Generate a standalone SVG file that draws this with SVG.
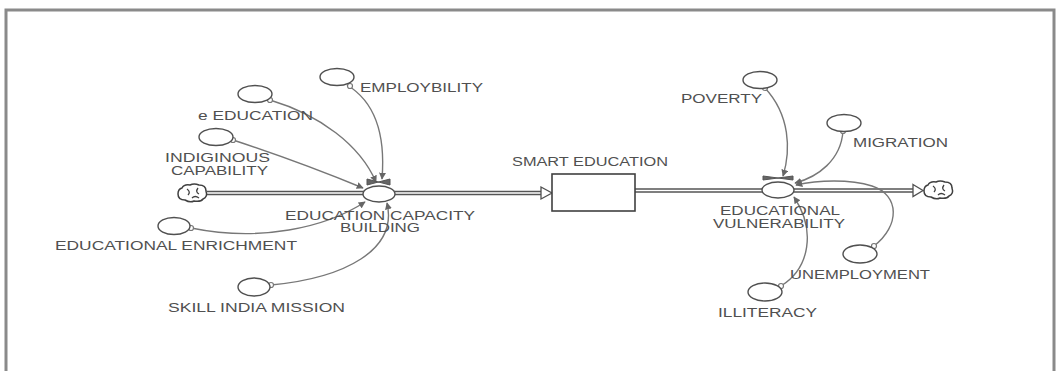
<svg xmlns="http://www.w3.org/2000/svg" width="1057" height="371" viewBox="0 0 1057 371">
<defs>
<style>
text{font-family:"Liberation Sans",Arial,sans-serif;font-size:12px;fill:#505050;}
.var{fill:#fff;stroke:#505050;stroke-width:1.4;}
.link{fill:none;stroke:#777;stroke-width:1.4;}
.pipe{fill:none;stroke:#555;stroke-width:4.5;}
.pipein{fill:none;stroke:#fff;stroke-width:1.5;}
.cloud{fill:#fff;stroke:#404040;stroke-width:1.5;}
.head{fill:#fff;stroke:#505050;stroke-width:1.3;}
.dot{fill:#fff;stroke:#777;stroke-width:1.2;}
</style>
<marker id="arr" viewBox="0 0 10 10" refX="9" refY="5" markerWidth="7" markerHeight="7" orient="auto" markerUnits="userSpaceOnUse">
<path d="M0,0 L10,5 L0,10 Z" fill="#666"/>
</marker>
<g id="cloudshape">
<path class="cloud" d="M-11,-5 Q-9,-9 -3,-8 Q1,-10 6,-8 Q13,-8 13,-2 Q15,4 10,6 Q8,9 1,8 Q-3,10 -8,7 Q-15,7 -15,1 Q-15,-4 -11,-5 Z"/>
<path fill="none" stroke="#404040" stroke-width="1.3" d="M-6,-4 Q-2,-1 -5,2 M5,-5 Q2,-1 6,1 M-1,5 Q2,2 6,5"/>
</g>
</defs>
<rect width="1057" height="371" fill="#fff"/>
<path d="M6,371 V10 H1054 V371" fill="none" stroke="#8a8a8a" stroke-width="3"/>

<g id="connectors">
<path class="pipe" d="M207,193 H541"/>
<path class="pipein" d="M207,193 H541"/>
<path class="pipe" d="M635,190.5 H914"/>
<path class="pipein" d="M635,190.5 H914"/>
<path class="head" d="M541,187 L552,193 L541,199 Z"/>
<path class="head" d="M913,184.5 L923,190.5 L913,196.5 Z"/>
<path class="link" marker-end="url(#arr)" d="M347,85 C372,100 386,130 382,179"/>
<path class="link" marker-end="url(#arr)" d="M270,100 C320,115 360,145 376,182"/>
<path class="link" marker-end="url(#arr)" d="M233,140 Q300,162 363,188"/>
<path class="link" marker-end="url(#arr)" d="M191,228 C260,242 325,228 365,202"/>
<path class="link" marker-end="url(#arr)" d="M271,285 C345,278 398,250 387,203"/>
<path class="link" marker-end="url(#arr)" d="M765,88 C790,115 791,150 783,176"/>
<path class="link" marker-end="url(#arr)" d="M843,131 C841,160 818,177 795,183"/>
<path class="link" marker-end="url(#arr)" d="M874,246 C900,226 900,195 872,186 C850,179 818,180 796,185"/>
<path class="link" marker-end="url(#arr)" d="M781,286 C810,268 816,230 794,197"/>
<circle class="dot" cx="350" cy="86" r="2.5"/>
<circle class="dot" cx="270" cy="100" r="2.5"/>
<circle class="dot" cx="233" cy="140" r="2.5"/>
<circle class="dot" cx="191" cy="228" r="2.5"/>
<circle class="dot" cx="271" cy="285" r="2.5"/>
<circle class="dot" cx="765" cy="88" r="2.5"/>
<circle class="dot" cx="843" cy="131" r="2.5"/>
<circle class="dot" cx="874" cy="246" r="2.5"/>
<circle class="dot" cx="781" cy="286" r="2.5"/>
</g>

<g id="source-cloud"><use href="#cloudshape" x="193" y="193"/></g>
<g id="sink-cloud"><use href="#cloudshape" x="939" y="190"/></g>

<g id="employbility">
<ellipse class="var" cx="337" cy="77" rx="17" ry="8.5"/>
<text x="360" y="92" textLength="123" lengthAdjust="spacingAndGlyphs">EMPLOYBILITY</text>
</g>
<g id="e-education">
<ellipse class="var" cx="255" cy="94" rx="17" ry="8.5"/>
<text x="198" y="120" textLength="115" lengthAdjust="spacingAndGlyphs">e EDUCATION</text>
</g>
<g id="indiginous-capability">
<ellipse class="var" cx="216" cy="137" rx="17" ry="8.5"/>
<text x="165" y="162" textLength="105" lengthAdjust="spacingAndGlyphs">INDIGINOUS</text>
<text x="171" y="175" textLength="97" lengthAdjust="spacingAndGlyphs">CAPABILITY</text>
</g>
<g id="educational-enrichment">
<ellipse class="var" cx="174" cy="226" rx="16" ry="8.5"/>
<text x="55" y="250" textLength="242" lengthAdjust="spacingAndGlyphs">EDUCATIONAL ENRICHMENT</text>
</g>
<g id="skill-india-mission">
<ellipse class="var" cx="254" cy="287" rx="16" ry="9"/>
<text x="168" y="312" textLength="177" lengthAdjust="spacingAndGlyphs">SKILL INDIA MISSION</text>
</g>
<g id="education-capacity-building">
<path d="M367,179 L390,185 L390,179 L367,185 Z" fill="#666" stroke="#555" stroke-width="1"/>
<ellipse class="var" cx="379" cy="194" rx="16" ry="8"/>
<text x="285" y="220" textLength="190" lengthAdjust="spacingAndGlyphs">EDUCATION CAPACITY</text>
<text x="340" y="232" textLength="80" lengthAdjust="spacingAndGlyphs">BUILDING</text>
</g>
<g id="smart-education">
<rect x="552" y="174" width="83" height="37" fill="#fff" stroke="#404040" stroke-width="1.6"/>
<text x="512" y="166" textLength="156" lengthAdjust="spacingAndGlyphs">SMART EDUCATION</text>
</g>
<g id="poverty">
<ellipse class="var" cx="760" cy="80" rx="17" ry="8.5"/>
<text x="681" y="103" textLength="81" lengthAdjust="spacingAndGlyphs">POVERTY</text>
</g>
<g id="migration">
<ellipse class="var" cx="844" cy="123" rx="17" ry="8.5"/>
<text x="853" y="147" textLength="95" lengthAdjust="spacingAndGlyphs">MIGRATION</text>
</g>
<g id="educational-vulnerability">
<path d="M763,176 L793,180 L793,176 L763,180 Z" fill="#666" stroke="#555" stroke-width="1"/>
<ellipse class="var" cx="778" cy="190" rx="16" ry="8"/>
<text x="720" y="215" textLength="120" lengthAdjust="spacingAndGlyphs">EDUCATIONAL</text>
<text x="713" y="228" textLength="132" lengthAdjust="spacingAndGlyphs">VULNERABILITY</text>
</g>
<g id="unemployment">
<ellipse class="var" cx="860" cy="254" rx="17" ry="9"/>
<text x="790" y="279" textLength="140" lengthAdjust="spacingAndGlyphs">UNEMPLOYMENT</text>
</g>
<g id="illiteracy">
<ellipse class="var" cx="765" cy="292" rx="17" ry="9"/>
<text x="718" y="317" textLength="99" lengthAdjust="spacingAndGlyphs">ILLITERACY</text>
</g>
</svg>
